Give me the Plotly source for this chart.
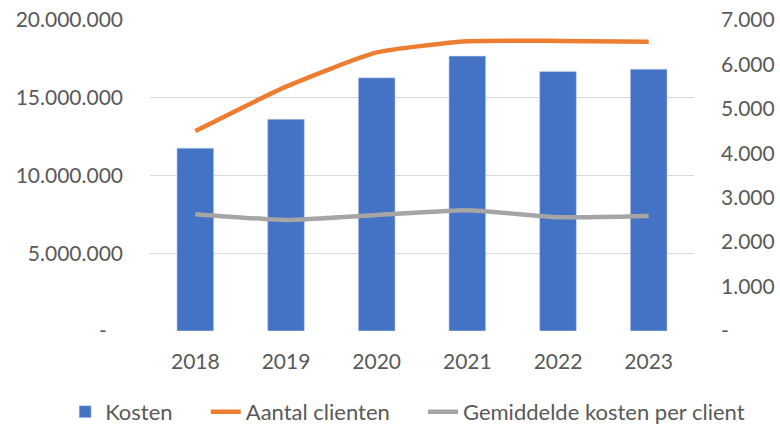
import plotly.graph_objects as go

years = ["2018", "2019", "2020", "2021", "2022", "2023"]
kosten = [11760000, 13620000, 16280000, 17680000, 16690000, 16840000]
aantal_clienten = [4500, 5500, 6270, 6520, 6530, 6510]
gemiddelde_kosten = [2630, 2500, 2610, 2720, 2560, 2590]

series_names = ["Kosten", "Aantal clienten", "Gemiddelde kosten per client"]

left_tickvals = [0, 5000000, 10000000, 15000000, 20000000]
left_ticktext = ["-\u00a0\u00a0\u00a0", "5.000.000", "10.000.000", "15.000.000", "20.000.000"]
right_tickvals = [0, 1000, 2000, 3000, 4000, 5000, 6000, 7000]
right_ticktext = ["-", "1.000", "2.000", "3.000", "4.000", "5.000", "6.000", "7.000"]

font_family = "Lato, 'Open Sans', sans-serif"
text_color = "#595959"
pad = "\u00a0" * 5

fig = go.Figure()
fig.add_trace(go.Bar(
    x=years, y=kosten, name=series_names[0] + pad,
    marker=dict(color="#4472C4", line=dict(color="#C9D6EE", width=0.6)),
    yaxis="y",
))
fig.add_trace(go.Scatter(
    x=years, y=aantal_clienten, name=series_names[1] + pad, mode="lines",
    line=dict(color="#ED7D31", width=4.5, shape="spline", smoothing=0.5),
    yaxis="y2",
))
fig.add_trace(go.Scatter(
    x=years, y=gemiddelde_kosten, name=series_names[2], mode="lines",
    line=dict(color="#A5A5A5", width=4.5, shape="spline", smoothing=0.5),
    yaxis="y2",
))

fig.update_layout(
    width=780, height=426,
    margin=dict(l=150, r=86, t=20, b=95, autoexpand=False),
    paper_bgcolor="white", plot_bgcolor="white",
    font=dict(family=font_family, size=21, color=text_color),
    bargap=0.595,
    showlegend=True,
    legend=dict(
        orientation="h", x=-0.156, xanchor="left",
        y=-0.26, yanchor="middle",
        font=dict(size=22, color=text_color), traceorder="normal",
        itemwidth=30, tracegroupgap=0,
    ),
    xaxis=dict(
        showgrid=False, showline=False, zeroline=False, ticks="",
        tickfont=dict(size=21, color=text_color), ticklabelstandoff=16,
    ),
    yaxis=dict(
        range=[0, 20000000], tickvals=left_tickvals, ticktext=left_ticktext,
        showgrid=True, gridcolor="#D9D9D9", gridwidth=1, zeroline=False,
        showline=False, ticks="", ticklabelstandoff=26,
        tickfont=dict(size=21, color=text_color),
    ),
    yaxis2=dict(
        range=[0, 7000], tickvals=right_tickvals, ticktext=right_ticktext,
        overlaying="y", side="right", showgrid=False, zeroline=False,
        showline=False, ticks="", ticklabelstandoff=26,
        tickfont=dict(size=21, color=text_color),
    ),
)

fig.write_html(
    "out.html",
    config={"displayModeBar": False},
    post_script="document.body.style.margin='0';document.body.style.overflow='hidden';",
)
